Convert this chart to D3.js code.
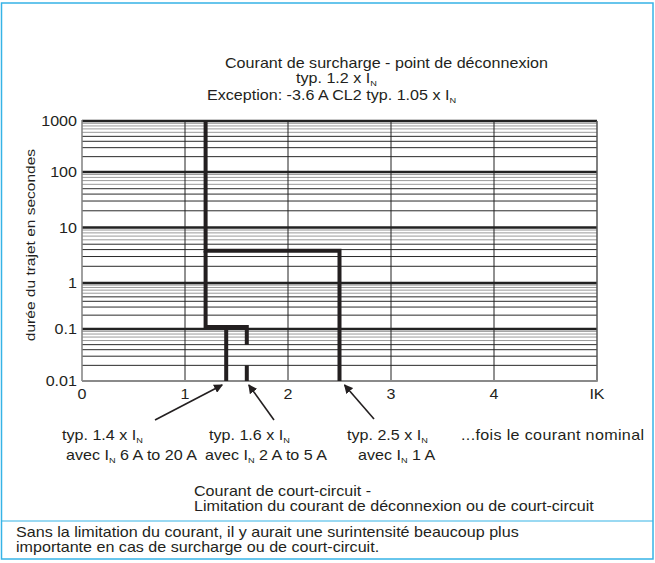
<!DOCTYPE html>
<html>
<head>
<meta charset="utf-8">
<script src="https://cdn.jsdelivr.net/npm/d3@7/dist/d3.min.js"></script>
<style>
  body { margin: 0; background: #fff; }
  svg { display: block; font-family: 'Liberation Sans', Arial, Helvetica, sans-serif; }
</style>
</head>
<body>
<div id="chart"></div>
<script>
// axis values
const xTicks = [0, 1, 2, 3, 4, 5];
const xTickLabels = ['0', '1', '2', '3', '4', 'IK'];
const yDecades = [0.01, 0.1, 1, 10, 100, 1000];
const yTickLabels = ['0.01', '0.1', '1', '10', '100', '1000'];

// trip curves (multiple of I_N, seconds)
const curve1A = [[1.2, 1000], [1.2, 3.8], [2.5, 3.8], [2.5, 0.01]];
const curve6to20A = [[1.2, 3.8], [1.2, 0.11], [1.4, 0.11], [1.4, 0.01]];
const curve2to5A_top = [[1.4, 0.11], [1.6, 0.11], [1.6, 0.05]];
const curve2to5A_bottom = [[1.6, 0.02], [1.6, 0.01]];

// arrows point at these currents
const arrowTargets = [1.4, 1.6, 2.5];

const W = 655, H = 563;
const SX = 1.15; // the original type is set a bit wide
const ink = '#231f20';
const blue = '#36b3e6';

const svg = d3.select('#chart').append('svg')
  .attr('width', W).attr('height', H);

svg.append('rect').attr('width', W).attr('height', H).attr('fill', '#fff');

// outer frame + separator
svg.append('rect')
  .attr('x', 1.5).attr('y', 3).attr('width', 651.5).attr('height', 556)
  .attr('fill', 'none').attr('stroke', blue).attr('stroke-width', 1.5);
svg.append('line')
  .attr('x1', 1.5).attr('x2', 653).attr('y1', 521).attr('y2', 521)
  .attr('stroke', blue).attr('stroke-width', 1.2);

const x = d3.scaleLinear().domain([0, 5]).range([82, 597]);
// the printed decades are not quite evenly spaced, so map each one
const y = d3.scaleLog().domain(yDecades).range([381, 329, 283, 227.5, 172, 121]);

function label(g, px, py, str, anchor, size, rot, ls) {
  const t = g.append('text')
    .attr('transform', `translate(${px},${py})${rot ? ` rotate(${rot})` : ''} scale(${SX},1)`)
    .attr('text-anchor', anchor || 'start')
    .attr('font-size', size || 14)
    .attr('letter-spacing', ls || null)
    .attr('fill', ink);
  const parts = str.split('_N');
  parts.forEach((p, i) => {
    t.append('tspan').attr('dy', i ? -2.5 : null).text(p);
    if (i < parts.length - 1) {
      t.append('tspan').attr('dy', 2.5).attr('font-size', 8).text('N');
    }
  });
  return t;
}

const grid = svg.append('g');

// minor log lines
const minor = y.ticks().filter((v) => !yDecades.includes(+v.toPrecision(3)));
grid.selectAll('line.minor')
  .data(minor)
  .join('line')
  .attr('class', 'minor')
  .attr('x1', x(0)).attr('x2', x(5))
  .attr('y1', (d) => y(d)).attr('y2', (d) => y(d))
  .attr('stroke', (d) => {
    const m = Math.round(d / Math.pow(10, Math.floor(Math.log10(d) + 1e-9)));
    return m <= 5 ? '#2a2a2a' : '#9a9a9a';
  })
  .attr('stroke-width', 1);

// decade lines
grid.selectAll('line.major')
  .data(yDecades.slice(1))
  .join('line')
  .attr('class', 'major')
  .attr('x1', x(0)).attr('x2', x(5))
  .attr('y1', (d) => y(d)).attr('y2', (d) => y(d))
  .attr('stroke', '#222')
  .attr('stroke-width', 2.5);

// vertical lines
grid.selectAll('line.v')
  .data(xTicks.slice(1))
  .join('line')
  .attr('class', 'v')
  .attr('x1', (d) => x(d)).attr('x2', (d) => x(d))
  .attr('y1', y(1000)).attr('y2', y(0.01))
  .attr('stroke', (d) => (d === 5 ? '#555' : '#222'))
  .attr('stroke-width', (d) => (d === 5 ? 1.5 : 1));

// axes lines
grid.append('line')
  .attr('x1', x(0)).attr('x2', x(0)).attr('y1', y(1000) - 1).attr('y2', y(0.01))
  .attr('stroke', '#808080').attr('stroke-width', 1.5);
grid.append('line')
  .attr('x1', x(0)).attr('x2', x(5) + 0.75).attr('y1', y(0.01)).attr('y2', y(0.01))
  .attr('stroke', '#8a8a8a').attr('stroke-width', 2);

// tick labels
yDecades.forEach((d, i) => label(svg, 77, y(d) + 5, yTickLabels[i], 'end'));
xTicks.forEach((d, i) => label(svg, x(d), 399, xTickLabels[i], 'middle'));

label(svg, 35, 245, 'durée du trajet en secondes', 'middle', 13.5, -90);

// curves
const line = d3.line().x((d) => x(d[0])).y((d) => y(d[1]));
[curve1A, curve6to20A, curve2to5A_top, curve2to5A_bottom].forEach((c) => {
  svg.append('path')
    .attr('d', line(c))
    .attr('fill', 'none')
    .attr('stroke', ink)
    .attr('stroke-width', 4)
    .attr('stroke-linejoin', 'miter');
});

// arrows
svg.append('defs').append('marker')
  .attr('id', 'ah')
  .attr('viewBox', '0 0 10 10')
  .attr('refX', 9).attr('refY', 5)
  .attr('markerWidth', 9).attr('markerHeight', 9)
  .attr('markerUnits', 'userSpaceOnUse')
  .attr('orient', 'auto')
  .append('path').attr('d', 'M0,0L10,5L0,10z').attr('fill', ink);

const tails = [[155, 420], [274, 420], [374, 419]];
const tipShift = [-4, 2, 5];
arrowTargets.forEach((v, i) => {
  svg.append('line')
    .attr('x1', tails[i][0]).attr('y1', tails[i][1])
    .attr('x2', x(v) + tipShift[i]).attr('y2', y(0.01) + 4)
    .attr('stroke', ink).attr('stroke-width', 1.6)
    .attr('marker-end', 'url(#ah)');
});

// titles
label(svg, 225, 68, 'Courant de surcharge - point de déconnexion');
label(svg, 296, 83, 'typ. 1.2 x I_N');
label(svg, 207, 100, 'Exception: -3.6 A CL2 typ. 1.05 x I_N');

// notes under the axis
label(svg, 62, 440, 'typ. 1.4 x I_N');
label(svg, 66, 460, 'avec I_N 6 A to 20 A');
label(svg, 209, 440, 'typ. 1.6 x I_N');
label(svg, 205, 460, 'avec I_N 2 A to 5 A');
label(svg, 347, 440, 'typ. 2.5 x I_N');
label(svg, 358, 460, 'avec I_N 1 A');
label(svg, 461, 440, '...fois le courant nominal', 'start', 14, 0, 0.3);

label(svg, 194, 496, 'Courant de court-circuit -');
label(svg, 194, 511, 'Limitation du courant de déconnexion ou de court-circuit');

label(svg, 16, 537, 'Sans la limitation du courant, il y aurait une surintensité beaucoup plus');
label(svg, 16, 552, 'importante en cas de surcharge ou de court-circuit.');
</script>
</body>
</html>
